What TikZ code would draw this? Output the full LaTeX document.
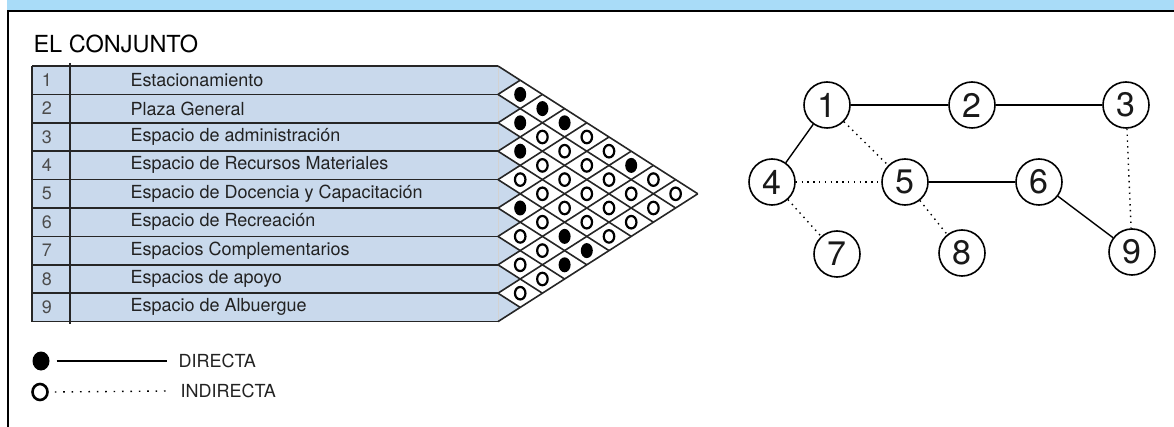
\documentclass[tikz,border=0pt]{standalone}
\usepackage{fontspec}
\setmainfont{TeX Gyre Heros}
\usepackage{tikz}
\usetikzlibrary{positioning,calc,shapes.geometric}
\definecolor{barcolor}{HTML}{A9DCF8}
\definecolor{rowcolor}{HTML}{C9D9EC}
\definecolor{linecolor}{HTML}{262626}
\definecolor{textgray}{HTML}{222222}

\begin{document}
\begin{tikzpicture}[x=1pt, y=-1pt, every node/.style={font=\fontsize{18}{20}\selectfont, text=textgray},
    gridline/.style={line width=1.6pt, color=linecolor},
    dotfull/.style={ellipse, fill=black, inner sep=0pt, minimum width=12pt, minimum height=15pt},
    dotopen/.style={ellipse, draw=black, line width=2.2pt, fill=white, inner sep=0pt, minimum width=10.5pt, minimum height=12.5pt},
    place/.style={circle, draw=black, line width=1.6pt, fill=white, inner sep=0pt, minimum size=46pt,
                  font=\fontsize{34}{34}\selectfont, text=black!90},
    directa/.style={line width=1.4pt, color=black},
    indirecta/.style={line width=1.4pt, color=black, dash pattern=on 1.4pt off 4.4pt}]
    \useasboundingbox (0,0) rectangle (1174,427);

    % Frame
    \fill[barcolor] (7,0) rectangle (1174,11);
    \draw[line width=1.6pt, color=black] (1174,11) -- (8,11) -- (8,427);
    \node[anchor=west, font=\fontsize{23.5}{25}\selectfont, text=black] (title) at (30,44) {EL CONJUNTO};

    % Rows of the table
    \foreach \name [count=\i] in {Estacionamiento, Plaza General, Espacio de administración,
        Espacio de Recursos Materiales, Espacio de Docencia y Capacitación, Espacio de Recreación,
        Espacios Complementarios, Espacios de apoyo, Espacio de Albuergue} {
        \pgfmathsetmacro{\ytop}{66+(\i-1)*28.4}
        \pgfmathsetmacro{\yc}{\ytop+14.2}
        \fill[rowcolor] (32,\ytop) -- (498,\ytop) -- (520.2,\yc) -- (498,\ytop+28.4) -- (32,\ytop+28.4) -- cycle;
        \node[text=black!70] (k\i) at (47,\yc) {\i};
        \node[anchor=west] (r\i) at (127,\yc) {\name};
    }

    % Table lines and diamond grid
    \draw[gray!35, line width=0.8pt] (498,66) -- (498,321.6);
    \foreach \k in {0,...,9} {
        \pgfmathsetmacro{\yk}{66+\k*28.4}
        \pgfmathtruncatemacro{\dn}{9-\k}
        \draw[gridline] (32,\yk) -- (498,\yk);
        \draw[gridline] (498,\yk) -- ++(\dn*22.2,\dn*14.2);
        \draw[gridline] (498,\yk) -- ++(\k*22.2,-\k*14.2);
    }
    \draw[gridline] (32,66) -- (32,321.6);
    \draw[gridline] (70,63) -- (70,324);

    % Relations
    \foreach \p in {12,13,23,14,34,17,56,58,59,69} {\expandafter\gdef\csname full\p\endcsname{}}
    \foreach \i in {1,...,8} {
        \pgfmathtruncatemacro{\inext}{\i+1}
        \foreach \j in {\inext,...,9} {
            \pgfmathsetmacro{\dx}{498+(\j-\i)*22.2}
            \pgfmathsetmacro{\dy}{66+28.4*((\i+\j)/2-0.5)}
            \ifcsname full\i\j\endcsname
                \node[dotfull] (d\i\j) at (\dx,\dy) {};
            \else
                \node[dotopen] (d\i\j) at (\dx,\dy) {};
            \fi
        }
    }

    % Graph
    \node[place] (g1) at (827,105) {1};
    \node[place] (g2) at (972,105) {2};
    \node[place] (g3) at (1126,105) {3};
    \node[place] (g4) at (772,182) {4};
    \node[place] (g5) at (905,182) {5};
    \node[place] (g6) at (1039,182) {6};
    \node[place] (g7) at (837,254) {7};
    \node[place] (g8) at (962,253) {8};
    \node[place] (g9) at (1132,252) {9};
    \draw[directa] (g1) -- (g2);
    \draw[directa] (g2) -- (g3);
    \draw[directa] (g1) -- (g4);
    \draw[directa] (g5) -- (g6);
    \draw[directa] (g6) -- (g9);
    \draw[indirecta] (g1) -- (g5);
    \draw[indirecta] (g4) -- (g5);
    \draw[indirecta] (g4) -- (g7);
    \draw[indirecta] (g5) -- (g8);
    \draw[indirecta] (g3) -- (g9);

    % Legend
    \node[dotfull, minimum width=17pt, minimum height=19pt] (lgfull) at (41,361) {};
    \node[dotopen, line width=2.6pt, minimum width=15pt, minimum height=16pt] (lgopen) at (40,392) {};
    \node[anchor=west] (lgdir) at (175,361) {DIRECTA};
    \node[anchor=west] (lgind) at (177,391) {INDIRECTA};
    \draw[directa] ([xshift=7pt]lgfull.east) -- ([xshift=-8pt]lgdir.west);
    \draw[indirecta, dash pattern=on 1.6pt off 6.8pt] ([xshift=6pt]lgopen.east) -- ([xshift=-8pt]lgind.west);
\end{tikzpicture}
\end{document}
